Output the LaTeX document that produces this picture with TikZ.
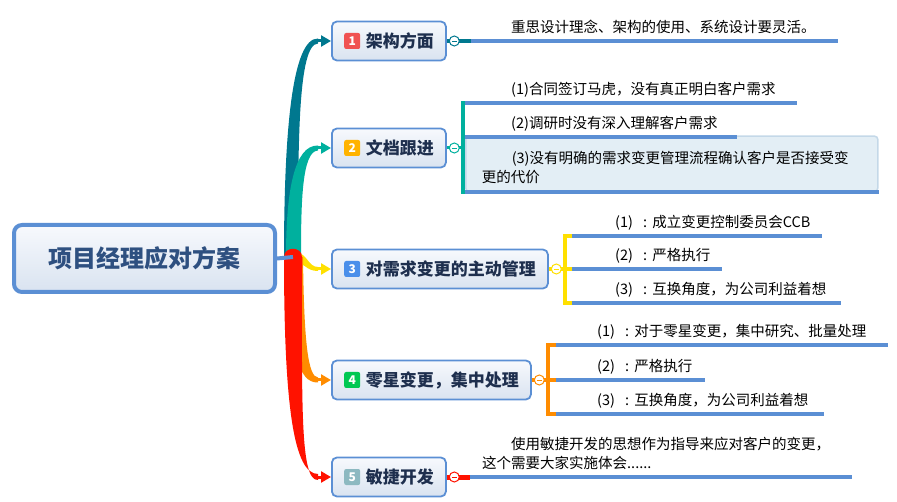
\documentclass[tikz,border=0pt]{standalone}
\usepackage{fontspec}
\setmainfont{Noto Sans CJK SC}
\definecolor{mmblue}{HTML}{5B8FD4}
\definecolor{mmtop}{HTML}{F7F9FD}
\definecolor{mmbot}{HTML}{D9E3F0}
\definecolor{mmroot}{HTML}{2E5080}
\definecolor{mmnavy}{HTML}{1E2F4E}
\definecolor{brA}{HTML}{00788F}
\definecolor{brB}{HTML}{00B09E}
\definecolor{brC}{HTML}{FFE000}
\definecolor{brD}{HTML}{FF8C00}
\definecolor{brE}{HTML}{FF1200}
\definecolor{bdgA}{HTML}{F05252}
\definecolor{bdgB}{HTML}{FFB300}
\definecolor{bdgC}{HTML}{4A8FEA}
\definecolor{bdgD}{HTML}{00C853}
\definecolor{bdgE}{HTML}{8DB9C1}
\definecolor{boxfill}{HTML}{E3EEF5}
\definecolor{boxline}{HTML}{C4D8E8}
\usetikzlibrary{arrows.meta,positioning,calc}
\newcommand{\colonmark}{\makebox[1em][c]{:}}

\begin{document}
\begin{tikzpicture}[x=1pt, y=-1pt,
    root/.style={draw=mmblue, line width=4pt, rounded corners=8pt,
                 top color=mmtop, bottom color=mmbot,
                 minimum width=261pt, minimum height=67pt,
                 font=\fontsize{24}{28}\selectfont\bfseries, text=mmroot},
    topic/.style={draw=mmblue, line width=1.8pt, rounded corners=5pt,
                  top color=mmtop, bottom color=mmbot, anchor=west,
                  minimum height=39pt, inner xsep=12pt,
                  font=\fontsize{17}{20}\selectfont\bfseries, text=mmnavy},
    badge/.style={fill=#1, rounded corners=2pt, minimum size=16pt, inner sep=0pt,
                  font=\fontsize{12}{12}\selectfont\bfseries, text=white},
    fold/.style={circle, draw=#1, fill=white, line width=1pt,
                 minimum size=10pt, inner sep=0pt, text=#1},
    sub/.style={anchor=south west, align=left, text width=#1,
                inner xsep=12pt, inner ysep=8.5pt, text depth=0pt,
                font=\fontsize{14.5}{19}\selectfont, text=black},
    twolines/.style={text depth=19pt},
    uline/.style={mmblue, line width=3.5pt},
    branch/.style={line width=3pt, -{Triangle[length=10pt,width=11pt]}}
  ]
    \useasboundingbox (0,0) rectangle (897,502);

    % Root
    \node[root] (root) at (144.5,258.5) {项目经理应对方案};
    \coordinate (hub) at (293,257);

    % Topics
    \node[topic] (t1) at (331,41) {\hspace*{22pt}架构方面};
    \node[topic] (t2) at (331,148) {\hspace*{22pt}文档跟进};
    \node[topic] (t3) at (331,269) {\hspace*{22pt}对需求变更的主动管理};
    \node[topic] (t4) at (331,380) {\hspace*{22pt}零星变更，集中处理};
    \node[topic] (t5) at (331,477) {\hspace*{22pt}敏捷开发};

    \node[badge=bdgA, right=13pt of t1.west] (b1) {1};
    \node[badge=bdgB, right=13pt of t2.west] (b2) {2};
    \node[badge=bdgC, right=13pt of t3.west] (b3) {3};
    \node[badge=bdgD, right=13pt of t4.west] (b4) {4};
    \node[badge=bdgE, right=13pt of t5.west] (b5) {5};

    % Branches
    \coordinate (e1) at ($(t1.west)+(-13,0)$);
    \coordinate (e2) at ($(t2.west)+(-13,0)$);
    \coordinate (e3) at ($(t3.west)+(-13,0)$);
    \coordinate (e4) at ($(t4.west)+(-13,0)$);
    \coordinate (e5) at ($(t5.west)+(-13,0)$);

    \fill[brA] ($(hub)+(-9,0)$) .. controls ($(hub)+(-9,-125)$) and ($(e1)+(-26,-3)$) .. ($(e1)+(0,-2.5)$)
      -- ($(e1)+(0,2.5)$) .. controls ($(e1)+(-20,3)$) and ($(hub)+(5,-115)$) .. ($(hub)+(5,0)$) -- cycle;
    \draw[branch, brA] (e1) -- (t1.west);

    \fill[brB] ($(hub)+(-7,0)$) .. controls ($(hub)+(-7,-65)$) and ($(e2)+(-24,-3)$) .. ($(e2)+(0,-2.5)$)
      -- ($(e2)+(0,2.5)$) .. controls ($(e2)+(-16,3)$) and ($(hub)+(8,-55)$) .. ($(hub)+(8,0)$) -- cycle;
    \draw[branch, brB] (e2) -- (t2.west);

    \fill[brC] ($(hub)+(4,-4)$) .. controls ($(hub)+(14,-4)$) and ($(e3)+(-10,-2)$) .. ($(e3)+(0,-2)$)
      -- ($(e3)+(0,2)$) .. controls ($(e3)+(-12,2)$) and ($(hub)+(12,6)$) .. ($(hub)+(4,6)$) -- cycle;
    \draw[branch, brC] (e3) -- (t3.west);

    \fill[brD] ($(hub)+(-4,0)$) .. controls ($(hub)+(-3,95)$) and ($(e4)+(-20,3)$) .. ($(e4)+(0,2.5)$)
      -- ($(e4)+(0,-2.5)$) .. controls ($(e4)+(-10,-3)$) and ($(hub)+(11,85)$) .. ($(hub)+(10,0)$) -- cycle;
    \draw[branch, brD] (e4) -- (t4.west);

    \fill[brE] ($(hub)+(-9,0)$) .. controls ($(hub)+(-9,150)$) and ($(e5)+(-24,-3)$) .. ($(e5)+(0,-3)$)
      -- ($(e5)+(0,3)$) .. controls ($(e5)+(-18,4)$) and ($(hub)+(9,150)$) .. ($(hub)+(9,0)$)
      .. controls ($(hub)+(9,-11)$) and ($(hub)+(-9,-11)$) .. ($(hub)+(-9,0)$) -- cycle;
    \draw[branch, brE] (e5) -- (t5.west);

    \draw[mmblue, line width=4pt] (root.east) -- (hub);

    % Sub topics
    \node[sub=343pt] (s1) at (471,41) {\hspace*{28pt}重思设计理念、架构的使用、系统设计要灵活。};

    \node[sub=308pt] (s21) at (465,103) {\hspace*{34pt}(1)合同签订马虎，没有真正明白客户需求};
    \node[sub=380pt, twolines, text height=18.5pt, inner ysep=8.75pt, inner xsep=16pt,
          fill=boxfill, draw=boxline, line width=1.5pt, rounded corners=3pt] (s23) at (465,192)
      {\hspace*{30pt}(3)没有明确的需求变更管理流程确认客户是否接受变\\更的代价};
    \node[sub=248pt] (s22) at (465,137) {\hspace*{34pt}(2)调研时没有深入理解客户需求};

    \node[sub=226pt] (s31) at (572,236) {\hspace*{31pt}(1)~\colonmark 成立变更控制委员会CCB};
    \node[sub=126pt] (s32) at (572,269) {\hspace*{31pt}(2)~\colonmark 严格执行};
    \node[sub=245pt] (s33) at (572,303) {\hspace*{31pt}(3)~\colonmark 互换角度，为公司利益着想};

    \node[sub=308pt] (s41) at (556,345) {\hspace*{29pt}(1)~\colonmark 对于零星变更，集中研究、批量处理};
    \node[sub=125pt] (s42) at (556,380) {\hspace*{29pt}(2)~\colonmark 严格执行};
    \node[sub=244pt] (s43) at (556,414) {\hspace*{29pt}(3)~\colonmark 互换角度，为公司利益着想};

    \node[sub=358pt, twolines] (s5) at (470,477)
      {\hspace*{29pt}使用敏捷开发的思想作为指导来应对客户的变更，\\这个需要大家实施体会......};

    \foreach \s in {s1,s21,s22,s23,s31,s32,s33,s41,s42,s43,s5}
      \draw[uline] (\s.south west) -- (\s.south east);

    % Links to sub topics
    \draw[brA, line width=4pt] (t1.east) -- (t1.east -| s1.south west);
    \draw[brB, line width=4pt] (s21.south west) -- ++(-2,0) |- (s23.south west);
    \draw[brB, line width=3pt] (t2.east) -- (t2.east -| s21.south west);
    \draw[brC, line width=4pt] (s31.south west) -- ++(-7,0) |- (s33.south west);
    \draw[brC, line width=4pt] (t3.east) -- (t3.east -| s32.south west);
    \draw[brD, line width=4pt] (s41.south west) -- ++(-8,0) |- (s43.south west);
    \draw[brD, line width=4pt] (t4.east) -- (t4.east -| s42.south west);
    \draw[brE, line width=5pt] (t5.east) -- (t5.east -| s5.south west);

    \node[fold=brA, right=2pt of t1] (f1) {\rule{5pt}{0.8pt}};
    \node[fold=brB, right=2pt of t2] (f2) {\rule{5pt}{0.8pt}};
    \node[fold=brC, right=2pt of t3] (f3) {\rule{5pt}{0.8pt}};
    \node[fold=brD, right=2pt of t4] (f4) {\rule{5pt}{0.8pt}};
    \node[fold=brE, right=2pt of t5] (f5) {\rule{5pt}{0.8pt}};
\end{tikzpicture}
\end{document}
